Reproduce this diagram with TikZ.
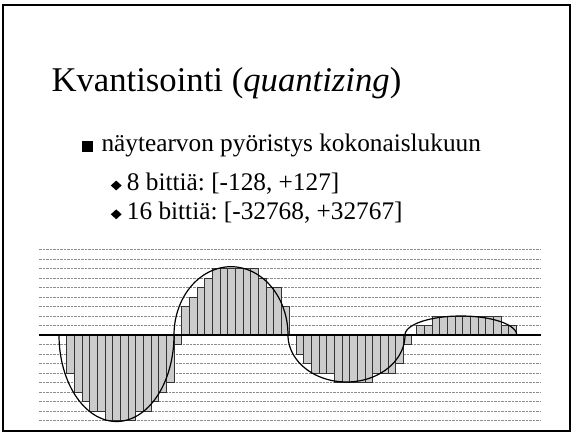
\documentclass[tikz,border=0pt]{standalone}
\usepackage{fontspec}
\setmainfont{Liberation Serif}
\usepackage{tikz}
\usetikzlibrary{shapes.geometric}
\frenchspacing

\begin{document}
\begin{tikzpicture}[
  x=1pt, y=-1pt,
  heading/.style={anchor=base west, inner sep=0pt, font=\fontsize{34.7}{40}\selectfont},
  bullettext/.style={anchor=base west, inner sep=0pt, font=\fontsize{25.3}{30}\selectfont},
  squarebullet/.style={rectangle, fill=black, inner sep=0pt,
                       minimum width=11.5pt, minimum height=10.5pt},
  diamondbullet/.style={diamond, fill=black, inner sep=0pt,
                        minimum width=11pt, minimum height=10pt},
  gridline/.style={draw=black!45, line width=0.8pt, dash pattern=on 2.5pt off 1pt},
  sample/.style={draw=black!80, line width=1pt, fill=black!20},
  zeroline/.style={draw=black, line width=1.2pt},
  wave/.style={draw=black, line width=1.2pt}
]
\useasboundingbox (0,0) rectangle (572,432);
\draw[line width=1.8pt] (3,5) rectangle (570.3,430.8);

% title and bullets
\node[heading] (title) at (51.3,91.7) {Kvantisointi (\textit{quantizing})};
\node[squarebullet] (sq) at (87.5,146.7) {};
\node[bullettext] (rounding) at (101.3,151.7) {näytearvon pyöristys kokonaislukuun};
\node[diamondbullet] (dia8) at (116.2,185.5) {};
\node[bullettext] (bits8) at (126.7,190) {8 bittiä: [-128, +127]};
\node[diamondbullet] (dia16) at (116.2,214.3) {};
\node[bullettext] (bits16) at (126.7,219) {16 bittiä: [-32768, +32767]};

% quantization levels
\foreach \k in {1,...,9} {
  \draw[gridline] (39,{335-9.5*\k}) -- (540,{335-9.5*\k});
  \draw[gridline] (39,{335+9.5*\k}) -- (540,{335+9.5*\k});
}

% held samples
\foreach \v [count=\i from 0] in {-4,-6,-7,-8,-8,-9,-9,-9,-9,-8,-8,-7,-6,-5,-1,
                                  3,4,5,6,7,7,7,7,7,7,6,5,5,3}
  \draw[sample] ({66.7+7.67*\i},335) rectangle ++(7.67,{-9.5*\v});
\foreach \v [count=\i from 0] in {-2,-3,-4,-4,-4,-5,-5,-5,-5,-5,-4,-4,-4,-3,-1}
  \draw[sample] ({296+7.67*\i},335) rectangle ++(7.67,{-9.5*\v});
\foreach \v [count=\i from 0] in {1,1,2,2,2,2,2,2,2,2,2,1,1}
  \draw[sample] ({416.7+7.67*\i},335) rectangle ++(7.67,{-9.5*\v});

% signal
\draw[zeroline] (39,335) -- (541,335);
\foreach \cx/\a/\b in {116.5/57.5/86.5, 231/57/-68.3, 346.5/58.5/47, 460.85/55.85/-19}
  \draw[wave] plot[domain=180:0, samples=72, smooth] ({\cx+\a*cos(\x)}, {335+\b*sin(\x)});

\end{tikzpicture}
\end{document}
